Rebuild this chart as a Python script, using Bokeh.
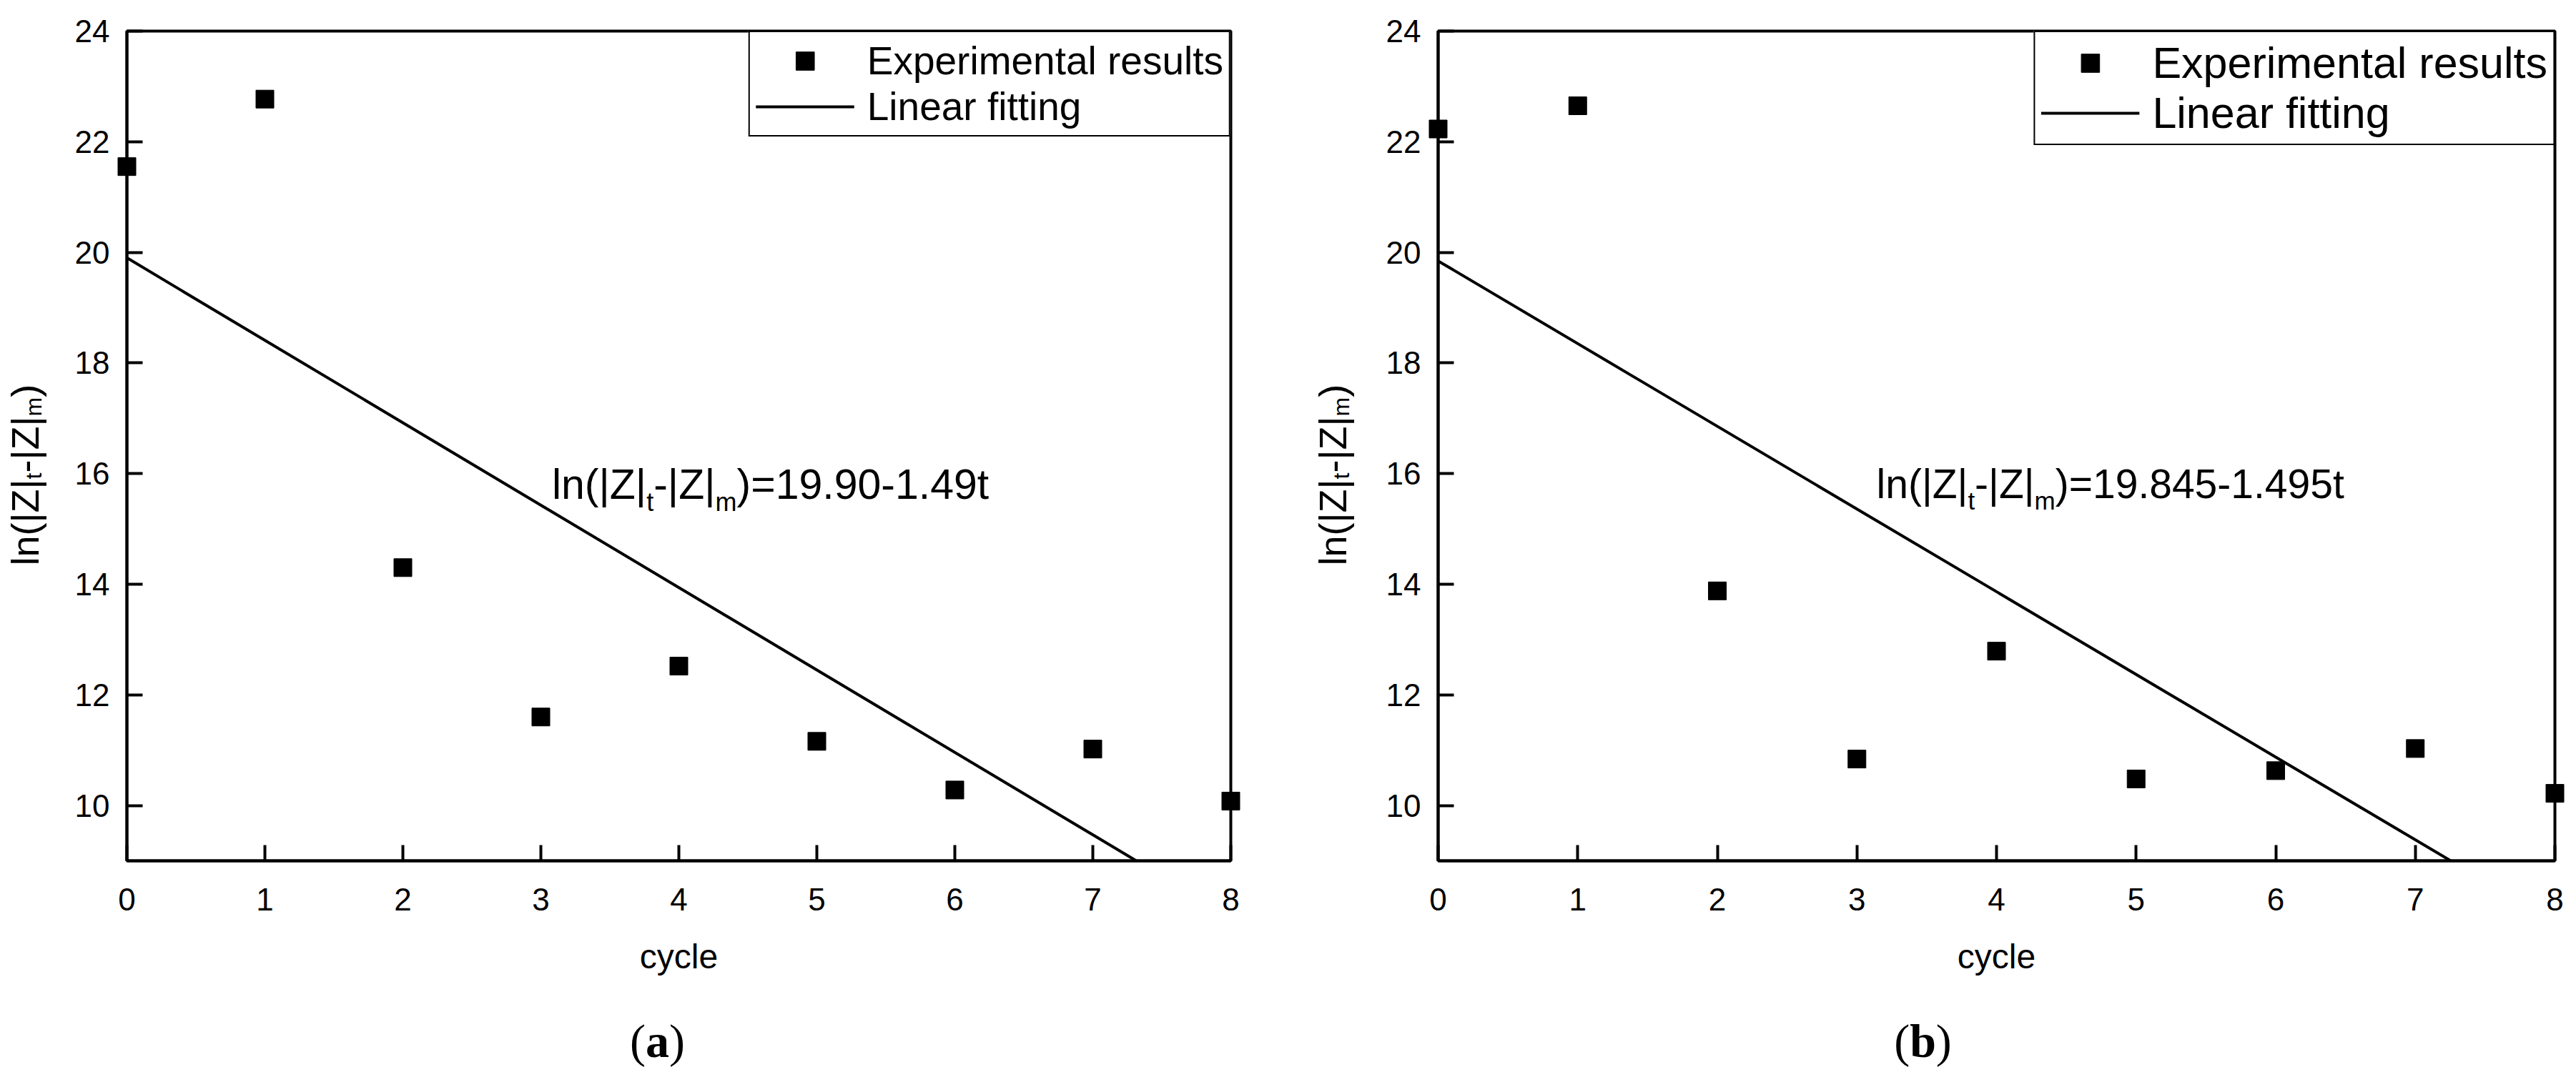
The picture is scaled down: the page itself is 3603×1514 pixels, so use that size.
import math
from bokeh.plotting import figure
from bokeh.models import ColumnDataSource, Range1d, FixedTicker, Legend, LegendItem
from bokeh.layouts import row
from bokeh.embed import file_html
from bokeh.resources import INLINE
from bokeh.core.properties import value

# ---------------- data ----------------
cycles = [0, 1, 2, 3, 4, 5, 6, 7, 8]
ln_a = [21.55, 22.77, 14.30, 11.60, 12.52, 11.16, 10.28, 11.02, 10.08]
ln_b = [22.23, 22.65, 13.88, 10.84, 12.79, 10.48, 10.63, 11.03, 10.22]
fit_a = [19.90, -1.49]      # intercept, slope
fit_b = [19.845, -1.495]
eq_a = "19.90-1.49t"
eq_b = "19.845-1.495t"
x_ticks = [0, 1, 2, 3, 4, 5, 6, 7, 8]
y_ticks = [10, 12, 14, 16, 18, 20, 22, 24]
x_label = "cycle"
legend_labels = ["Experimental results", "Linear fitting"]
captions = ["a", "b"]

SANS = "Liberation Sans"
SERIF = "Liberation Serif"
FIG_H = 1498
X0, X1, Y0, Y1 = 0, 8, 9, 24

# Arial-compatible advance widths (per em) for layout of composed texts
W = {'l': .222, 'n': .556, '(': .333, ')': .333, '|': .26, 'Z': .611, '-': .333,
     '=': .584, '.': .278, 't': .278, 'm': .833, ' ': .278}
for d in "0123456789":
    W[d] = .556


def tw(s, size):
    return sum(W.get(c, .556) for c in s) * size


def add_texts(p, x, y, rows, font, angle=0.0, level="overlay"):
    """rows: list of (text, x_offset_px, y_offset_px, font_size_px, style)"""
    src = ColumnDataSource(dict(
        x=[x] * len(rows), y=[y] * len(rows),
        text=[r[0] for r in rows], xo=[r[1] for r in rows], yo=[r[2] for r in rows],
        fs=[f"{r[3]}px" for r in rows], st=[r[4] for r in rows]))
    p.text("x", "y", text="text", x_offset="xo", y_offset="yo", text_font_size="fs",
           text_font_style="st", source=src, text_font=value(font),
           text_color="black", text_align="left", text_baseline="alphabetic",
           angle=angle, level=level)


def make_panel(ys, fit, eq, letter, width, bl, br, bt, leg_font, leg_gh,
               ann_x, ann_y, ann_f, ylab_dx, cap_dx, frame_h):
    p = figure(width=width, height=FIG_H, output_backend="svg", toolbar_location=None,
               x_range=Range1d(X0, X1), y_range=Range1d(Y0, Y1),
               min_border_left=bl, min_border_right=br, min_border_top=bt,
               min_border_bottom=FIG_H - bt - frame_h, background_fill_color="white",
               border_fill_color="white")
    p.grid.visible = False
    p.outline_line_color = "black"
    p.outline_line_width = 4
    p.outline_line_alpha = 1

    for ax in (p.xaxis[0], p.yaxis[0]):
        ax.axis_line_width = 4
        ax.axis_line_color = "black"
        ax.major_tick_line_width = 4
        ax.major_tick_line_color = "black"
        ax.major_tick_in = 22
        ax.major_tick_out = 0
        ax.minor_tick_line_color = None
        ax.major_label_text_font = SANS
        ax.major_label_text_font_size = "44px"
        ax.major_label_text_color = "black"
    p.xaxis.ticker = FixedTicker(ticks=x_ticks)
    p.yaxis.ticker = FixedTicker(ticks=y_ticks)
    p.xaxis.major_label_standoff = 38
    p.yaxis.major_label_standoff = 24
    p.xaxis.axis_label = x_label
    p.xaxis.axis_label_text_font = SANS
    p.xaxis.axis_label_text_font_size = "48px"
    p.xaxis.axis_label_text_font_style = "normal"
    p.xaxis.axis_label_text_color = "black"
    p.xaxis.axis_label_standoff = 35

    # fitted line from the fit equation
    lx = [X0, X1]
    ly = [fit[0] + fit[1] * x for x in lx]
    line_r = p.line(lx, ly, line_color="black", line_width=4)

    src = ColumnDataSource(dict(x=cycles, y=ys))
    sc_r = p.scatter("x", "y", source=src, marker="square", size=25,
                     fill_color="black", line_color="black", level="overlay")

    leg = Legend(items=[LegendItem(label=legend_labels[0], renderers=[sc_r]),
                        LegendItem(label=legend_labels[1], renderers=[line_r])],
                 location="top_right", margin=0, padding=8, spacing=0,
                 glyph_width=138, glyph_height=leg_gh, label_standoff=18,
                 label_text_font=SANS, label_text_font_size=f"{leg_font}px",
                 label_text_color="black",
                 border_line_color="black", border_line_width=2, border_line_alpha=1,
                 background_fill_color="white", background_fill_alpha=1)
    p.add_layout(leg)

    # equation annotation with subscripts
    S = round(ann_f * 0.61)
    pieces = [("ln(|Z|", ann_f, 0), ("t", S, 24), ("-|Z|", ann_f, 0), ("m", S, 24),
              (")=" + eq, ann_f, 0)]
    rows, cur = [], 0.0
    for s, f, dy in pieces:
        rows.append((s, cur, dy, f, "normal"))
        cur += tw(s, f)
    add_texts(p, ann_x, ann_y, rows, SANS, level="glyph")

    # rotated y-axis label with subscripts, anchored at the frame's bottom-left corner
    F, SS = 54, 32
    ylp = [("ln(|Z|", F, 0), ("t", SS, 12), ("-|Z|", F, 0), ("m", SS, 12), (")", F, 0)]
    rows, cur = [], -413.0
    for s, f, dx in ylp:
        rows.append((s, ylab_dx + dx, cur, f, "normal"))
        cur -= tw(s, f)
    add_texts(p, X0, Y0, rows, SANS, angle=math.pi / 2)

    # caption (a)/(b) below the plot
    CF = 66
    lw = .5 if letter == "a" else .556
    parts = [("(", .333, "normal"), (letter, lw, "bold"), (")", .333, "normal")]
    total = sum(w for _, w, _ in parts) * CF
    cx = cap_dx - total / 2
    rows = []
    for s, w, st in parts:
        rows.append((s, cx, 252, CF, st))
        cx += w * CF
    add_texts(p, X0, Y0, rows, SERIF)
    return p


p1 = make_panel(ln_a, fit_a, eq_a, captions[0], 1798, 177, 77, 32, 55, 64,
                3.08, 15.80, 59, -143, 742, 1172)
p2 = make_panel(ln_b, fit_b, eq_b, captions[1], 1789, 213, 14, 43, 61, 64,
                3.14, 15.82, 57, -148, 678, 1161)

layout = row(p1, p2)
open("out.html", "w").write(file_html(layout, INLINE))
